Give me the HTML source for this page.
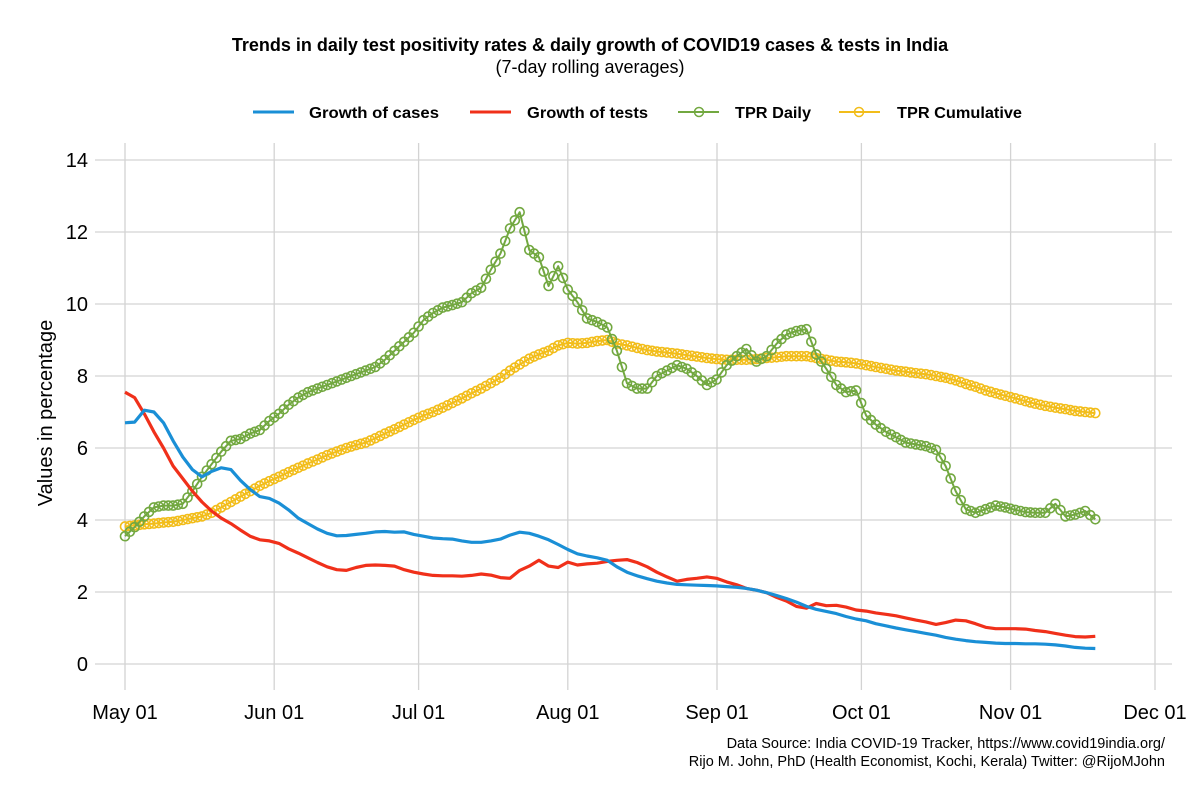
<!DOCTYPE html>
<html><head><meta charset="utf-8">
<style>
html,body{margin:0;padding:0;background:#fff;}
svg{display:block;font-family:"Liberation Sans",Arial,sans-serif;}
</style></head>
<body>
<svg id="chart" width="1200" height="800" viewBox="0 0 1200 800" xmlns="http://www.w3.org/2000/svg">
<text x="590" y="51" text-anchor="middle" font-size="18" font-weight="bold" fill="#000">Trends in daily test positivity rates &amp; daily growth of COVID19 cases &amp; tests in India</text>
<text x="590" y="73" text-anchor="middle" font-size="18" fill="#000">(7-day rolling averages)</text>
<g id="grid"></g>
<g id="series"></g>
<g>
  <g>
    <line x1="253" y1="112" x2="294" y2="112" stroke="#1a8fd6" stroke-width="3"/>
    <text x="309" y="118" font-size="16" font-weight="bold" textLength="130" lengthAdjust="spacingAndGlyphs">Growth of cases</text>
  </g>
  <g>
    <line x1="470" y1="112" x2="511" y2="112" stroke="#f0301a" stroke-width="3"/>
    <text x="527" y="118" font-size="16" font-weight="bold" textLength="121" lengthAdjust="spacingAndGlyphs">Growth of tests</text>
  </g>
  <g>
    <line x1="678" y1="112" x2="719" y2="112" stroke="#72a840" stroke-width="2"/>
    <circle cx="699" cy="112" r="4.5" fill="none" stroke="#72a840" stroke-width="1.5"/>
    <text x="735" y="118" font-size="16" font-weight="bold" textLength="76" lengthAdjust="spacingAndGlyphs">TPR Daily</text>
  </g>
  <g>
    <line x1="839" y1="112" x2="880" y2="112" stroke="#f2bd1a" stroke-width="2"/>
    <circle cx="859" cy="112" r="4.5" fill="none" stroke="#f2bd1a" stroke-width="1.5"/>
    <text x="897" y="118" font-size="16" font-weight="bold" textLength="125" lengthAdjust="spacingAndGlyphs">TPR Cumulative</text>
  </g>
</g>
<text transform="translate(52,413) rotate(-90)" text-anchor="middle" font-size="20" fill="#000">Values in percentage</text>
<text x="1165" y="748" text-anchor="end" font-size="14.5" fill="#000">Data Source: India COVID-19 Tracker, https://www.covid19india.org/</text>
<text x="1165" y="766" text-anchor="end" font-size="14.5" fill="#000">Rijo M. John, PhD (Health Economist, Kochi, Kerala) Twitter: @RijoMJohn</text>
</svg>
<script>
const days = [0,2,4,6,8,10,12,14,16,18,20,22,24,26,28,30,32,34,36,38,40,42,44,46,48,50,52,54,56,58,60,62,64,66,68,70,72,74,76,78,80,82,84,86,88,90,92,94,96.0,98.1,100.2,102.2,104.3,106.4,108.5,110.5,112.6,114.7,116.7,118.8,120.9,122.9,125.0,127.1,129.1,131.2,133.3,135.4,137.4,139.5,141.6,143.6,145.7,147.8,149.8,151.9,154.0,156.0,158.1,160.2,162.2,164.3,166.4,168.5,170.5,172.6,174.7,176.7,178.8,180.9,182.9,185.0,187.1,189.1,191.2,193.3,195.4,197.4,199.5,201.6];
const xTickLabels = ["May 01","Jun 01","Jul 01","Aug 01","Sep 01","Oct 01","Nov 01","Dec 01"];
const xTickDays = [0,31,61,92,123,153,184,214];
const yTicks = [0,2,4,6,8,10,12,14];
const growthCases = [6.7,6.72,7.05,7.0,6.7,6.2,5.75,5.4,5.2,5.35,5.45,5.4,5.1,4.85,4.65,4.6,4.47,4.28,4.05,3.9,3.75,3.63,3.56,3.57,3.6,3.63,3.67,3.68,3.66,3.67,3.6,3.55,3.5,3.48,3.47,3.42,3.38,3.38,3.42,3.47,3.58,3.66,3.63,3.55,3.45,3.32,3.18,3.06,3.0,2.95,2.88,2.7,2.55,2.45,2.37,2.3,2.25,2.21,2.2,2.19,2.18,2.17,2.15,2.13,2.1,2.05,1.98,1.9,1.82,1.72,1.6,1.52,1.46,1.4,1.32,1.25,1.2,1.12,1.06,1.0,0.95,0.9,0.85,0.8,0.74,0.69,0.65,0.62,0.6,0.58,0.57,0.57,0.56,0.56,0.55,0.53,0.5,0.46,0.44,0.43];
const growthTests = [7.55,7.4,6.95,6.45,6.0,5.5,5.15,4.8,4.5,4.25,4.05,3.9,3.72,3.55,3.45,3.42,3.35,3.2,3.08,2.95,2.82,2.7,2.62,2.6,2.68,2.74,2.75,2.74,2.72,2.62,2.55,2.5,2.46,2.45,2.45,2.44,2.46,2.5,2.47,2.4,2.38,2.6,2.72,2.88,2.72,2.68,2.83,2.75,2.78,2.8,2.85,2.88,2.9,2.82,2.7,2.55,2.42,2.3,2.35,2.38,2.42,2.38,2.28,2.2,2.1,2.05,1.98,1.85,1.75,1.6,1.55,1.68,1.62,1.63,1.58,1.5,1.47,1.42,1.38,1.34,1.28,1.22,1.17,1.1,1.15,1.22,1.2,1.12,1.02,0.98,0.98,0.98,0.97,0.93,0.9,0.85,0.8,0.76,0.75,0.77];
const tprDaily = [3.55,3.8,4.1,4.35,4.4,4.4,4.45,4.8,5.2,5.55,5.9,6.2,6.25,6.4,6.5,6.75,6.95,7.2,7.4,7.55,7.65,7.75,7.85,7.95,8.05,8.15,8.25,8.45,8.7,8.95,9.2,9.55,9.75,9.9,9.97,10.05,10.3,10.45,10.95,11.4,12.1,12.55,11.5,11.3,10.5,11.05,10.4,10.05,9.6,9.5,9.35,8.7,7.8,7.65,7.65,8.0,8.15,8.3,8.2,8.0,7.75,7.9,8.3,8.55,8.75,8.4,8.55,8.9,9.15,9.25,9.3,8.6,8.2,7.75,7.55,7.6,6.9,6.65,6.45,6.3,6.15,6.1,6.05,5.95,5.5,4.8,4.3,4.2,4.3,4.4,4.35,4.28,4.22,4.2,4.2,4.45,4.1,4.15,4.25,4.02];
const tprCumulative = [3.82,3.85,3.88,3.9,3.93,3.95,4.0,4.05,4.1,4.2,4.35,4.5,4.65,4.8,4.95,5.08,5.2,5.33,5.45,5.57,5.68,5.8,5.9,6.0,6.08,6.15,6.27,6.4,6.52,6.65,6.78,6.9,7.0,7.12,7.25,7.38,7.52,7.65,7.8,7.95,8.15,8.32,8.48,8.6,8.7,8.85,8.92,8.9,8.92,8.97,9.0,8.9,8.85,8.78,8.72,8.68,8.65,8.62,8.58,8.54,8.5,8.47,8.45,8.45,8.45,8.47,8.5,8.52,8.55,8.55,8.55,8.5,8.45,8.4,8.38,8.35,8.3,8.25,8.2,8.15,8.12,8.08,8.05,8.0,7.95,7.88,7.78,7.7,7.6,7.52,7.45,7.38,7.3,7.23,7.17,7.12,7.08,7.03,7.0,6.97];

const NS = "http://www.w3.org/2000/svg";
function xScale(day){ return 125 + day * (1155 - 125) / 214; }
function yScale(v){ return 664 - v * 36; }
function mk(tag, attrs, parent){
  const el = document.createElementNS(NS, tag);
  for (const k in attrs) el.setAttribute(k, attrs[k]);
  parent.appendChild(el);
  return el;
}
const grid = document.getElementById('grid');
const svg = document.getElementById('chart');
yTicks.forEach(function(t){
  const ln = mk('line', {x1:95, x2:1172, y1:yScale(t), y2:yScale(t), stroke:'#d3d3d3', 'stroke-width':1.3}, grid);
  
  
  const tx = mk('text', {x:88, y:yScale(t)+7, 'text-anchor':'end', 'font-size':20, fill:'#000'}, svg);
  tx.textContent = t;
  
  
});
xTickDays.forEach(function(d, i){
  const ln = mk('line', {x1:xScale(d), x2:xScale(d), y1:143, y2:690, stroke:'#d3d3d3', 'stroke-width':1.3}, grid);
  
  
  const tx = mk('text', {x:xScale(d), y:719, 'text-anchor':'middle', 'font-size':20, fill:'#000'}, svg);
  tx.textContent = xTickLabels[i];
  
  
});
const layer = document.getElementById('series');
function drawSeries(vals, color, width, markers, name){
  const pts = vals.map(function(v, i){ return xScale(days[i]).toFixed(1) + ',' + yScale(v).toFixed(1); }).join(' ');
  const pl = mk('polyline', {points:pts, fill:'none', stroke:color, 'stroke-width':width, 'stroke-linejoin':'round'}, layer);
  
  
  if (markers){
    vals.forEach(function(v, i){
      const c = mk('circle', {cx:xScale(days[i]), cy:yScale(v), r:4.5, fill:'none', stroke:color, 'stroke-width':1.6}, layer);
      
      
      if (i < vals.length - 1){
        const m = mk('circle', {cx:(xScale(days[i])+xScale(days[i+1]))/2, cy:(yScale(v)+yScale(vals[i+1]))/2, r:4.5, fill:'none', stroke:color, 'stroke-width':1.6}, layer);
        
        
      }
    });
  }
}
drawSeries(tprCumulative, '#f2bd1a', 2, true, 'tpr-cumulative');
drawSeries(tprDaily, '#72a840', 2, true, 'tpr-daily');
drawSeries(growthTests, '#f0301a', 3.2, false, 'growth-of-tests');
drawSeries(growthCases, '#1a8fd6', 3.2, false, 'growth-of-cases');
</script>
</body></html>
